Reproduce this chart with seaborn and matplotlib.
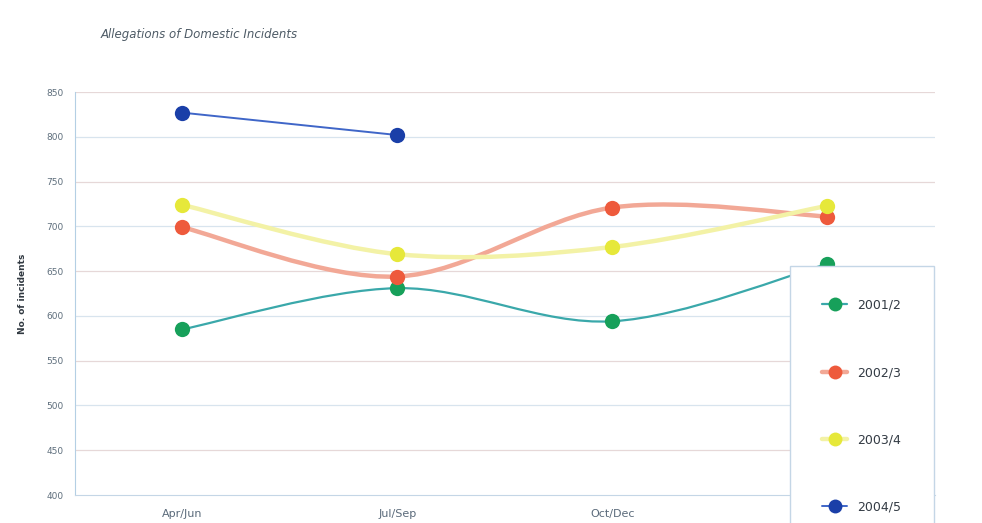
import numpy as np
import pandas as pd
import matplotlib
matplotlib.use("Agg")
import matplotlib.pyplot as plt
import seaborn as sns
from matplotlib.path import Path
from matplotlib.patches import PathPatch
from matplotlib.lines import Line2D

quarters = ["Apr/Jun", "Jul/Sep", "Oct/Dec", "Jan/Mar"]
years = ["2001/2", "2002/3", "2003/4", "2004/5"]
y2001 = [585, 631, 594, 658]
y2002 = [699, 644, 721, 711]
y2003 = [724, 669, 677, 723]
y2004 = [827, 802, np.nan, np.nan]
yticks = [400, 450, 500, 550, 600, 650, 700, 750, 800, 850]

marker_colors = ["#17a05a", "#ee5a3c", "#e6e83a", "#1a3fa8"]
line_colors = ["#3aa8aa", "#f2a896", "#f3f2a6", "#3f66c8"]
line_widths = [1.6, 3.2, 3.2, 1.4]

df = pd.DataFrame({
    "quarter": quarters * 4,
    "pos": list(range(4)) * 4,
    "year": np.repeat(years, 4),
    "value": y2001 + y2002 + y2003 + y2004,
})

sns.set_style("white")
fig = plt.figure(figsize=(9.82, 5.23), dpi=100)
ax = fig.add_axes([0.076, 0.0535, 0.876, 0.7705])


def smooth_path(xs, ys):
    # catmull-rom style bezier, like excel's smoothed lines
    pts = np.column_stack([xs, ys])
    pts = pts[~np.isnan(pts[:, 1])]
    verts = [pts[0]]
    codes = [Path.MOVETO]
    n = len(pts)
    for i in range(n - 1):
        p0 = pts[max(i - 1, 0)]
        p1 = pts[i]
        p2 = pts[i + 1]
        p3 = pts[min(i + 2, n - 1)]
        verts += [p1 + (p2 - p0) / 6, p2 - (p3 - p1) / 6, p2]
        codes += [Path.CURVE4] * 3
    return Path(verts, codes)


for i, yr in enumerate(years):
    sub = df[df["year"] == yr]
    patch = PathPatch(smooth_path(sub["pos"].values.astype(float), sub["value"].values),
                      facecolor="none", edgecolor=line_colors[i], lw=line_widths[i], zorder=2)
    ax.add_patch(patch)

sns.lineplot(data=df, x="pos", y="value", hue="year", palette=marker_colors,
             marker="o", markersize=11, markeredgewidth=0, linewidth=0,
             legend=False, ax=ax, zorder=3)

ax.set_xlim(-0.5, 3.5)
ax.set_ylim(400, 850)
ax.set_yticks(yticks)
ax.set_yticklabels([str(v) for v in yticks], fontsize=6.5, color="#5e6e7c")
ax.set_xticks(range(4))
ax.set_xticklabels(quarters, fontsize=8, color="#5a6a7a")
ax.tick_params(axis="x", length=0, pad=10)
ax.tick_params(axis="y", length=0, pad=8)
ax.set_xlabel("")
ax.set_ylabel("No. of incidents", fontsize=6.5, fontweight="bold", color="#303840", labelpad=14)
for v in yticks[1:]:
    ax.axhline(v, color="#e6d8d8" if v % 100 else "#d8e4ee", lw=0.9, zorder=1)
for s in ["top", "right"]:
    ax.spines[s].set_visible(False)
ax.spines["left"].set_color("#b4cfe4")
ax.spines["bottom"].set_color("#c4d6e6")

fig.text(0.102, 0.928, "Allegations of Domestic Incidents", fontsize=8.5, style="italic",
         color="#4e5b66")

handles = [Line2D([0], [0], color=line_colors[i], lw=line_widths[i],
                  marker="o", markersize=10, markerfacecolor=marker_colors[i],
                  markeredgewidth=0) for i in range(4)]
leg = fig.legend(handles, years, loc="upper left", bbox_to_anchor=(0.798, 0.503),
                 fontsize=9, labelspacing=4.35, borderpad=2.6, handlelength=2.0,
                 handletextpad=0.8, frameon=True, fancybox=False, framealpha=1)
leg.get_frame().set_edgecolor("#c4d6e6")
leg.get_frame().set_linewidth(1.0)
for t in leg.get_texts():
    t.set_color("#333b44")

fig.savefig("out.png", dpi=100)
